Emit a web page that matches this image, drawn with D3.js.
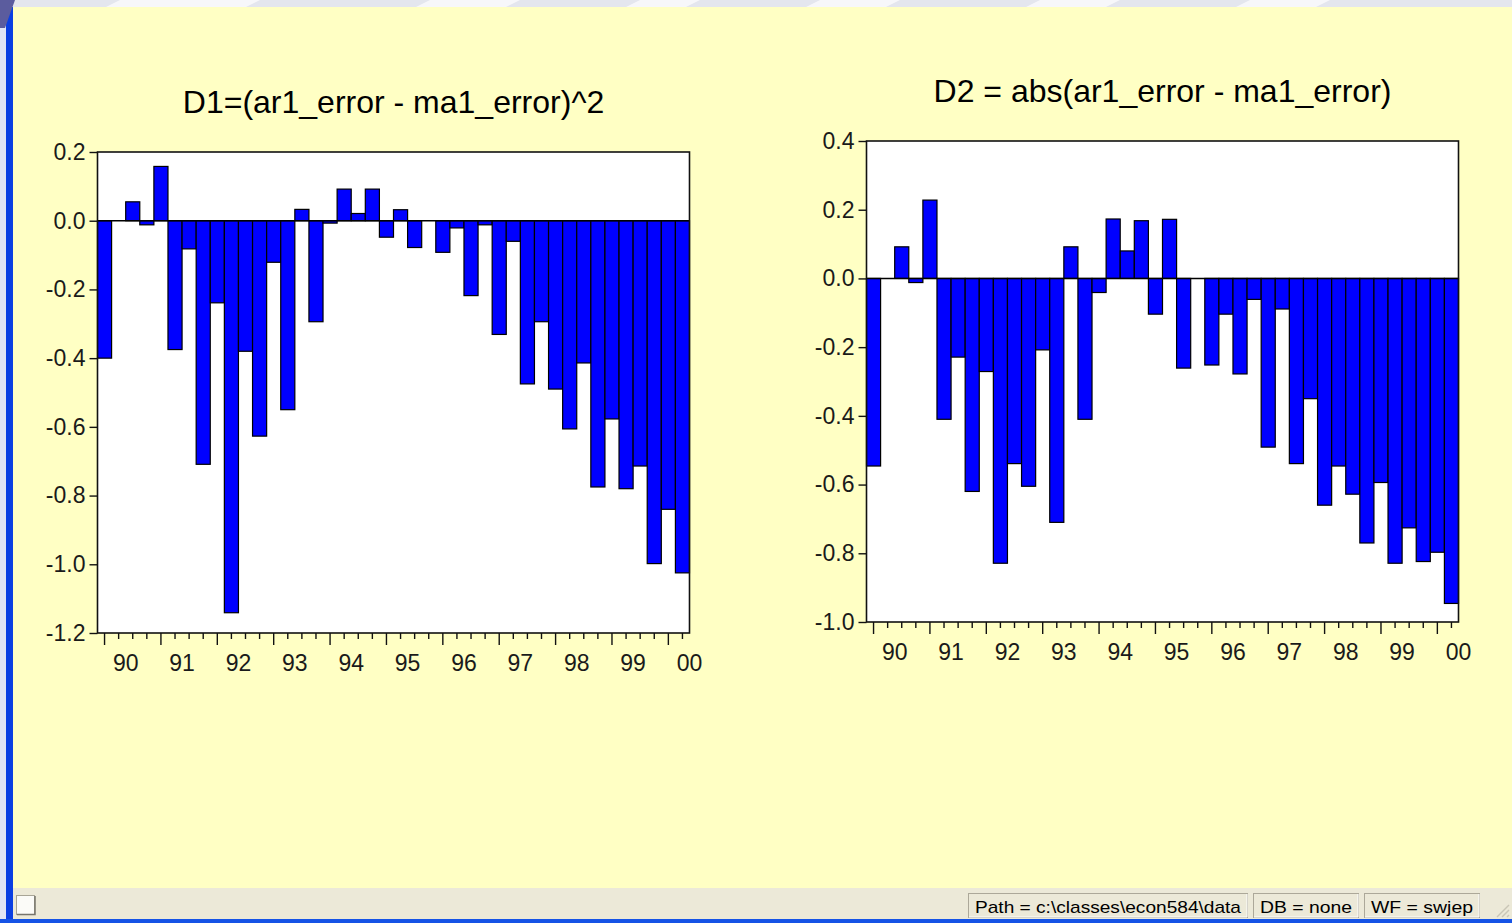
<!DOCTYPE html>
<html>
<head>
<meta charset="utf-8">
<script src="https://cdn.jsdelivr.net/npm/d3@7"></script>
<style>
  html, body { margin: 0; padding: 0; background: #FFFFC4; overflow: hidden; }
  svg { display: block; }
  text { font-family: "Liberation Sans", Arial, sans-serif; }
</style>
</head>
<body>
<svg id="view" width="1512" height="923"></svg>
<script>
// Quarterly periods shown on both panels (1990Q1 .. 2000Q2)
const quarters = [
  "1990Q1","1990Q2","1990Q3","1990Q4","1991Q1","1991Q2","1991Q3","1991Q4",
  "1992Q1","1992Q2","1992Q3","1992Q4","1993Q1","1993Q2","1993Q3","1993Q4",
  "1994Q1","1994Q2","1994Q3","1994Q4","1995Q1","1995Q2","1995Q3","1995Q4",
  "1996Q1","1996Q2","1996Q3","1996Q4","1997Q1","1997Q2","1997Q3","1997Q4",
  "1998Q1","1998Q2","1998Q3","1998Q4","1999Q1","1999Q2","1999Q3","1999Q4",
  "2000Q1","2000Q2"
];
const yearLabels = ["90","91","92","93","94","95","96","97","98","99","00"];

// D1 = (ar1_error - ma1_error)^2
const d1Values = [
  -0.400, 0.000, 0.055, -0.012, 0.158, -0.375, -0.082, -0.709, -0.239, -1.141,
  -0.380, -0.627, -0.121, -0.550, 0.033, -0.294, -0.007, 0.092, 0.021, 0.092,
  -0.048, 0.032, -0.078, 0.000, -0.092, -0.021, -0.218, -0.012, -0.331, -0.060,
  -0.475, -0.294, -0.490, -0.606, -0.414, -0.775, -0.577, -0.780, -0.714, -0.998,
  -0.840, -1.025
];
// D2 = abs(ar1_error - ma1_error)
const d2Values = [
  -0.546, 0.000, 0.092, -0.012, 0.228, -0.410, -0.229, -0.620, -0.271, -0.829,
  -0.539, -0.605, -0.208, -0.710, 0.092, -0.410, -0.041, 0.173, 0.080, 0.168,
  -0.104, 0.172, -0.261, 0.000, -0.252, -0.104, -0.278, -0.061, -0.491, -0.089,
  -0.539, -0.350, -0.660, -0.546, -0.628, -0.770, -0.594, -0.829, -0.726, -0.824,
  -0.797, -0.946
];
const d1Ticks = [0.2, 0.0, -0.2, -0.4, -0.6, -0.8, -1.0, -1.2];
const d2Ticks = [0.4, 0.2, 0.0, -0.2, -0.4, -0.6, -0.8, -1.0];

const statusItems = [
  { text: "Path = c:\\classes\\econ584\\data", x0: 968, x1: 1247 },
  { text: "DB = none", x0: 1253, x1: 1358 },
  { text: "WF = swjep", x0: 1364, x1: 1479 }
];

const svg = d3.select("#view");
const W = 1512, H = 923;

// ---------- window chrome ----------
svg.append("rect").attr("x", 0).attr("y", 0).attr("width", W).attr("height", H).attr("fill", "#FFFFC4");

// top strip
svg.append("rect").attr("x", 0).attr("y", 0).attr("width", W).attr("height", 7).attr("fill", "#e4e6ee");
const stripes = [[120, 260], [430, 520], [640, 700], [820, 900], [1040, 1120], [1250, 1330]];
svg.append("g").selectAll("polygon").data(stripes).join("polygon")
  .attr("points", d => `${d[0]},0 ${d[1]},0 ${d[1] - 14},7 ${d[0] - 14},7`)
  .attr("fill", "#f7f7fa");

// left edge
svg.append("rect").attr("x", 0).attr("y", 7).attr("width", 6).attr("height", H - 7).attr("fill", "#e2e5f4");
svg.append("rect").attr("x", 6).attr("y", 7).attr("width", 7).attr("height", H - 7).attr("fill", "#0b3fe2");
svg.append("polygon").attr("points", "0,0 15,0 5,28 0,28").attr("fill", "#5b5c9e");

// status bar
svg.append("rect").attr("x", 13).attr("y", 888).attr("width", W - 13).attr("height", 31).attr("fill", "#ECE9D8");
svg.append("rect").attr("x", 0).attr("y", 919).attr("width", W).attr("height", 4).attr("fill", "#1553e6");
// small button at the left of the status bar
svg.append("rect").attr("x", 16.5).attr("y", 895.5).attr("width", 18).attr("height", 19)
  .attr("fill", "#fbfbf8").attr("stroke", "#a8a597");
svg.append("path").attr("d", "M17,914.5 H35 V896").attr("fill", "none").attr("stroke", "#77756c").attr("stroke-width", 1.5);

const panels = svg.append("g");
statusItems.forEach(p => {
  panels.append("rect").attr("x", p.x0 + 0.5).attr("y", 893.5).attr("width", p.x1 - p.x0).attr("height", 24)
    .attr("fill", "#ECE9D8").attr("stroke", "#aca899");
  panels.append("path").attr("d", `M${p.x0 + 1},917 H${p.x1} V894`).attr("fill", "none").attr("stroke", "#ffffff");
  panels.append("text").attr("x", p.x0 + 7).attr("y", 912.5)
    .attr("font-size", 17).attr("fill", "#000")
    .attr("textLength", p.x1 - p.x0 - 13).attr("lengthAdjust", "spacingAndGlyphs")
    .text(p.text);
});
// resize grip
const grip = svg.append("g");
[0, 5, 10].forEach(o => {
  grip.append("line").attr("x1", 1497 + o).attr("y1", 917).attr("x2", 1509).attr("y2", 905 + o)
    .attr("stroke", "#c9c6b6").attr("stroke-width", 1.5);
});

// ---------- charts ----------
const fmt = d3.formatLocale({ decimal: ".", thousands: ",", grouping: [3], currency: ["", ""], minus: "-" }).format(".1f");

function drawPanel(cfg) {
  const x = d3.scaleBand().domain(quarters).range([cfg.left, cfg.right]).paddingInner(0).paddingOuter(0);
  const y = d3.scaleLinear().domain(cfg.domain).range([cfg.bottom, cfg.top]);
  const g = svg.append("g");

  // plot area
  g.append("rect")
    .attr("x", cfg.left).attr("y", y(cfg.domain[1]))
    .attr("width", cfg.right - cfg.left).attr("height", y(cfg.domain[0]) - y(cfg.domain[1]))
    .attr("fill", "#ffffff");

  // bars
  g.append("g").selectAll("rect").data(cfg.values).join("rect")
    .attr("x", (d, i) => x(quarters[i]))
    .attr("width", x.bandwidth())
    .attr("y", d => y(Math.max(0, d)))
    .attr("height", d => Math.abs(y(d) - y(0)))
    .attr("fill", "#0000FF")
    .attr("stroke", "#000")
    .attr("stroke-width", 1.2);

  // zero line
  g.append("line")
    .attr("x1", cfg.left).attr("x2", cfg.right)
    .attr("y1", y(0)).attr("y2", y(0))
    .attr("stroke", "#000").attr("stroke-width", 1.5);

  // frame
  g.append("rect")
    .attr("x", cfg.left).attr("y", y(cfg.domain[1]))
    .attr("width", cfg.right - cfg.left).attr("height", y(cfg.domain[0]) - y(cfg.domain[1]))
    .attr("fill", "none").attr("stroke", "#111").attr("stroke-width", 1.6);

  // y axis
  const ya = g.append("g").attr("transform", `translate(${cfg.left},0)`)
    .call(d3.axisLeft(y).tickValues(cfg.ticks).tickSize(8).tickPadding(4).tickFormat(fmt));
  ya.select(".domain").remove();
  ya.selectAll(".tick line").attr("stroke", "#111").attr("stroke-width", 1.4);
  ya.selectAll(".tick text").attr("font-size", 23).attr("fill", "#1a1a1a")
    .attr("font-family", "'Liberation Sans', Arial, sans-serif");

  // x axis: a tick per quarter, longer at the first quarter of each year
  const xa = g.append("g").attr("transform", `translate(0,${y(cfg.domain[0])})`)
    .call(d3.axisBottom(x).tickSize(6).tickFormat(""));
  xa.select(".domain").remove();
  xa.selectAll(".tick line")
    .attr("stroke", "#111").attr("stroke-width", 1.4)
    .attr("y2", d => d.endsWith("Q1") ? 12 : 6);

  const firstQuarters = quarters.filter(q => q.endsWith("Q1"));
  g.append("g").selectAll("text").data(yearLabels).join("text")
    .attr("x", (d, i) => x(firstQuarters[i]) + x.step() * 2)
    .attr("y", y(cfg.domain[0]) + 38)
    .attr("text-anchor", "middle")
    .attr("font-size", 23).attr("fill", "#1a1a1a")
    .text(d => d);

  // title
  g.append("text")
    .attr("x", (cfg.left + cfg.right) / 2)
    .attr("y", y(cfg.domain[1]) - 39)
    .attr("text-anchor", "middle")
    .attr("font-size", 32).attr("fill", "#000")
    .text(cfg.title);
}

drawPanel({
  title: "D1=(ar1_error - ma1_error)^2",
  values: d1Values, ticks: d1Ticks, domain: [-1.2, 0.2],
  left: 97.5, right: 689.5, top: 152, bottom: 633
});
drawPanel({
  title: "D2 = abs(ar1_error - ma1_error)",
  values: d2Values, ticks: d2Ticks, domain: [-1.0, 0.4],
  left: 866.5, right: 1458.5, top: 141, bottom: 622
});
</script>
</body>
</html>
